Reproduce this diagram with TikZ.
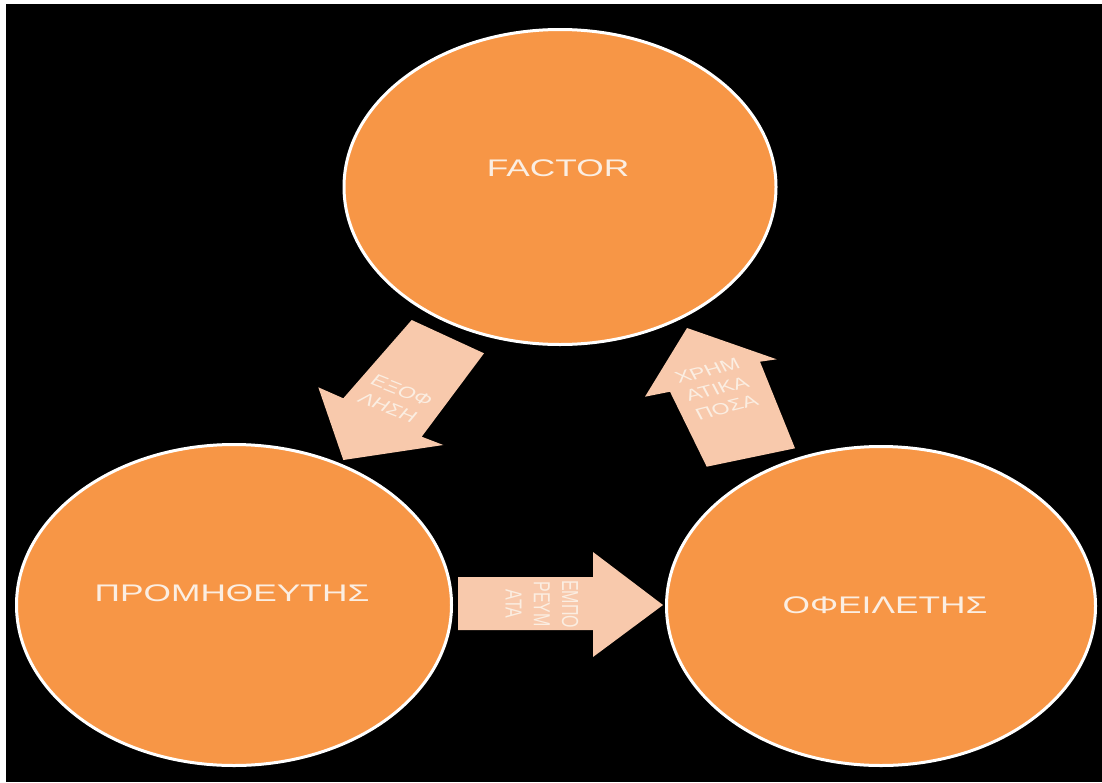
\documentclass[tikz,border=0pt]{standalone}
\usepackage{fontspec}
\setmainfont{Liberation Sans}
\newfontfamily\widefont[FakeStretch=1.47]{Liberation Sans}
\usetikzlibrary{shapes.geometric}
\definecolor{bubble}{HTML}{F79646}
\definecolor{flow}{HTML}{F8C9AC}
\definecolor{ink}{HTML}{FBEEE2}
\begin{document}
\begin{tikzpicture}[x=1pt,y=-1pt,
  party/.style={ellipse, draw=white, line width=3pt, fill=bubble, inner sep=0pt},
  partyname/.style={text=ink, font=\widefont\fontsize{24}{28}\selectfont, inner sep=0pt},
  flowarrow/.style={fill=flow},
  flowlabel/.style={text=ink, font=\fontsize{16}{19.5}\selectfont, align=center,
                    inner sep=0pt, transform shape}]
\useasboundingbox (0,0) rectangle (1102,782);
\fill[white] (0,0) rectangle (1102,782);
\fill[black] (6,4) rectangle (1102,782);

% the three parties
\node[party, minimum width=432pt, minimum height=315pt] (factor) at (560,187) {};
\node[party, minimum width=435pt, minimum height=321pt] (supplier) at (234,605) {};
\node[party, minimum width=429pt, minimum height=319pt] (debtor) at (881,606) {};

\node[partyname] (factorname) at (558,168) {FACTOR};
\node[partyname] (suppliername) at (232,593) {ΠΡΟΜΗΘΕΥΤΗΣ};
\node[partyname] (debtorname) at (885,605) {ΟΦΕΙΛΕΤΗΣ};

% block arrows between the parties
\fill[flowarrow] (411.7,320) -- (484,353.3) -- (421.7,436.7) -- (443.3,445)
  -- (343.3,460) -- (318.3,387.3) -- (343.3,398.3) -- cycle;
\fill[flowarrow] (706.7,466.7) -- (795,448.3) -- (760,361.7) -- (776.7,359.3)
  -- (687,328) -- (645,396.7) -- (670,391.7) -- cycle;
\fill[flowarrow] (458,577) -- (593,577) -- (593,552) -- (663,605)
  -- (593,657) -- (593,630) -- (458,630) -- cycle;

% arrow captions
\begin{scope}[shift={(395,399)}, xscale=1.45]
  \node[flowlabel, rotate=-30] (paylabel) at (0,0) {ΕΞΟΦ\\ΛΗΣΗ};
\end{scope}
\begin{scope}[shift={(717,389)}, xscale=1.45]
  \node[flowlabel, rotate=20] (cashlabel) at (0,0) {ΧΡΗΜ\\ΑΤΙΚΑ\\ΠΟΣΑ};
\end{scope}
\begin{scope}[shift={(542,604)}, xscale=1.45]
  \node[flowlabel, rotate=-90] (goodslabel) at (0,0) {ΕΜΠΟ\\ΡΕΥΜ\\ΑΤΑ};
\end{scope}
\end{tikzpicture}
\end{document}
